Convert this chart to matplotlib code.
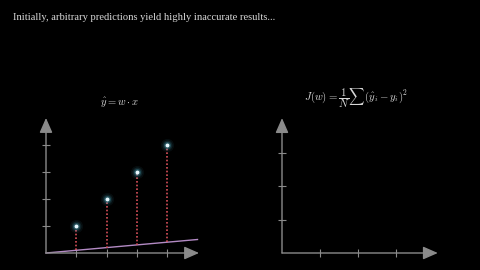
import numpy as np
import matplotlib.pyplot as plt

plt.rcParams['mathtext.fontset'] = 'cm'

# data
x_pts = [1, 2, 3, 4]
y_pts = [1, 2, 3, 4]
w = 0.1
line_x = [0, 5]
left_ticks_x = [1, 2, 3, 4]
left_ticks_y = [1, 2, 3, 4]
right_ticks_x = [1, 2, 3]
right_ticks_y = [1, 2, 3]

title = "Initially, arbitrary predictions yield highly inaccurate results..."
eq_left = r"$\hat{y} = w \cdot x$"
eq_right = r"$J(w) = \dfrac{1}{N}\sum(\hat{y}_i - y_i)^2$"

axis_col = '#8a8a8a'
W, H = 480, 270

fig = plt.figure(figsize=(4.8, 2.7), dpi=100, facecolor='black')


def make_axes(ox, oy, ux, uy, xmax, ymax):
    # origin in pixels (ox, oy from top), unit sizes in pixels
    ax = fig.add_axes([ox / W, (H - oy) / H, xmax * ux / W, ymax * uy / H])
    ax.set_xlim(0, xmax)
    ax.set_ylim(0, ymax)
    ax.axis('off')
    return ax


def draw_arrows(ax, xend, yend, xt, yt):
    ap = dict(arrowstyle='-|>,head_length=0.75,head_width=0.33', color=axis_col,
              lw=1.0, mutation_scale=12, shrinkA=0, shrinkB=0)
    ax.annotate('', xy=(xend, 0), xytext=(0, 0), arrowprops=ap, annotation_clip=False)
    ax.annotate('', xy=(0, yend), xytext=(0, 0), arrowprops=ap, annotation_clip=False)
    ax.plot(xt, [0] * len(xt), ls='none', marker='|', ms=6, mew=0.8,
            color=axis_col, clip_on=False)
    ax.plot([0] * len(yt), yt, ls='none', marker='_', ms=6, mew=0.8,
            color=axis_col, clip_on=False)


# left panel
ax1 = make_axes(46, 253, 30.3, 27, 5.3, 5.3)
draw_arrows(ax1, 5.05, 5.0, left_ticks_x, left_ticks_y)
line_y = [w * v for v in line_x]
ax1.plot(line_x, line_y, color='#b38ac4', lw=1.0, clip_on=False)
for xp, yp in zip(x_pts, y_pts):
    ax1.plot([xp, xp], [w * xp, yp], color='#d8505a', lw=1.2, ls=(0, (1, 1.2)))
for s, a in [(90, 0.07), (50, 0.14), (25, 0.3)]:
    ax1.scatter(x_pts, y_pts, s=s, color='#4fb3c8', alpha=a, lw=0, zorder=4)
ax1.scatter(x_pts, y_pts, s=8, color='#e8f8ff', lw=0, zorder=5)

# right panel
ax2 = make_axes(282, 253, 38, 33.3, 4.4, 4.4)
draw_arrows(ax2, 4.1, 4.05, right_ticks_x, right_ticks_y)

fig.text(13 / W, 1 - 17 / H, title, color='#d8d8d8', fontsize=7.6,
         family='Liberation Serif', va='center', ha='left')
fig.text(119 / W, 1 - 103 / H, eq_left, color='#d8d8d8', fontsize=7.6,
         ha='center', va='center')
fig.text(356 / W, 1 - 98 / H, eq_right, color='#d8d8d8', fontsize=7.8,
         ha='center', va='center')

fig.savefig('out.png', dpi=100, facecolor='black')
